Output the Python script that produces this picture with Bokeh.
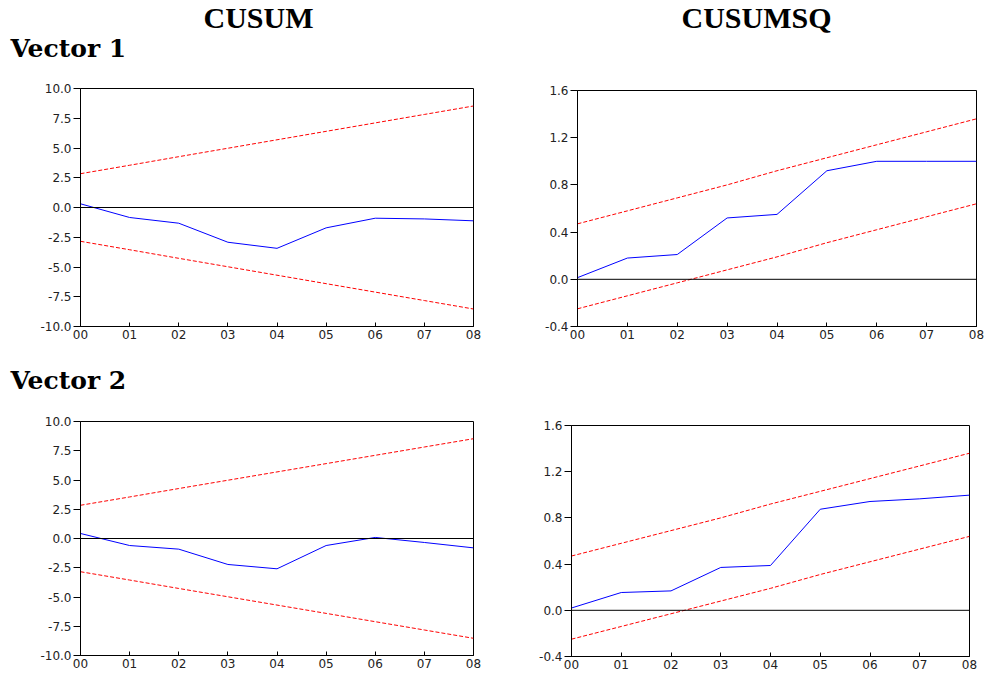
from bokeh.plotting import figure
from bokeh.layouts import column, row
from bokeh.models import Range1d, FixedTicker, Span, NumeralTickFormatter
from bokeh.core.properties import value
from bokeh.embed import file_html
from bokeh.resources import INLINE

# ---------------- data ----------------
periods = [0, 1, 2, 3, 4, 5, 6, 7, 8]
period_labels = ["00", "01", "02", "03", "04", "05", "06", "07", "08"]

cusum_v1 = [0.31, -0.84, -1.32, -2.92, -3.43, -1.71, -0.90, -0.96, -1.12]
cusum_v2 = [0.43, -0.60, -0.91, -2.22, -2.59, -0.60, 0.09, -0.34, -0.80]
cusum_upper = [2.84, 3.55, 4.27, 4.98, 5.69, 6.40, 7.11, 7.82, 8.53]
cusum_lower = [-2.84, -3.55, -4.27, -4.98, -5.69, -6.40, -7.11, -7.82, -8.53]

cusumsq_v1 = [0.014, 0.18, 0.21, 0.52, 0.55, 0.92, 1.0, 1.0, 1.0]
cusumsq_v2 = [0.02, 0.154, 0.168, 0.371, 0.388, 0.875, 0.942, 0.965, 0.997]
cusumsq_upper = [0.47, 0.58, 0.69, 0.80, 0.92, 1.03, 1.14, 1.25, 1.36]
cusumsq_lower = [-0.25, -0.14, -0.03, 0.08, 0.19, 0.31, 0.42, 0.53, 0.64]

cusum_ticks = [-10.0, -7.5, -5.0, -2.5, 0.0, 2.5, 5.0, 7.5, 10.0]
cusumsq_ticks = [-0.4, 0.0, 0.4, 0.8, 1.2, 1.6]

col_titles = ["CUSUM", "CUSUMSQ"]
row_titles = ["Vector 1", "Vector 2"]

TICK_FONT = "DejaVu Sans"


def panel(series, upper, lower, yticks, width, height, bl, br, bt, bb):
    p = figure(width=width, height=height, output_backend="svg",
               toolbar_location=None, tools="",
               x_range=Range1d(periods[0], periods[-1]),
               y_range=Range1d(yticks[0], yticks[-1]),
               min_border_left=bl, min_border_right=br,
               min_border_top=bt, min_border_bottom=bb)
    p.grid.visible = False
    p.outline_line_color = "black"
    p.outline_line_width = 1
    p.outline_line_alpha = 1
    p.background_fill_color = "white"

    p.xaxis.ticker = FixedTicker(ticks=periods)
    p.xaxis.major_label_overrides = {k: v for k, v in zip(periods, period_labels)}
    p.xaxis.major_tick_in = 4
    p.xaxis.major_tick_out = 0
    p.xaxis.minor_tick_line_color = None
    p.xaxis.major_label_standoff = 3

    p.yaxis.ticker = FixedTicker(ticks=yticks)
    p.yaxis.formatter = NumeralTickFormatter(format="0.0")
    p.yaxis.major_tick_in = 0
    p.yaxis.major_tick_out = 7
    p.yaxis.minor_tick_line_color = None
    p.yaxis.major_label_standoff = 2

    for ax in (p.xaxis, p.yaxis):
        ax.axis_line_color = "black"
        ax.major_tick_line_color = "black"
        ax.major_label_text_font = TICK_FONT
        ax.major_label_text_font_size = "12px"
        ax.major_label_text_color = "#222222"

    p.add_layout(Span(location=0, dimension="width", line_color="black", line_width=1))
    p.line(periods, upper, line_color="#ff0000", line_width=1, line_dash="4 2")
    p.line(periods, lower, line_color="#ff0000", line_width=1, line_dash="4 2")
    p.line(periods, series, line_color="#0000ff", line_width=1)
    return p


def header(width, height, items):
    h = figure(width=width, height=height, output_backend="svg",
               toolbar_location=None, tools="",
               x_range=Range1d(0, width), y_range=Range1d(height, 0),
               x_axis_location=None, y_axis_location=None,
               min_border=0)
    h.grid.visible = False
    h.outline_line_color = None
    for (x, y, txt, font, size, align) in items:
        h.text(x=[x], y=[y], text=[txt], text_font=value(font),
               text_font_size=size, text_font_style="bold",
               text_align=align, text_baseline="alphabetic", text_color="black")
    return h


W = 985
head1 = header(W, 78, [
    (258, 17, col_titles[0], "Liberation Serif", "30px", "center"),
    (756, 17, col_titles[1], "Liberation Serif", "30px", "center"),
    (10, 48, row_titles[0], "DejaVu Serif", "25px", "left"),
])

tl = panel(cusum_v1, cusum_upper, cusum_lower, cusum_ticks, 500, 267, 80, 27, 10, 19)
tr = panel(cusumsq_v1, cusumsq_upper, cusumsq_lower, cusumsq_ticks, 485, 267, 77, 9, 12, 19)

head2 = header(W, 60, [
    (10, 35, row_titles[1], "DejaVu Serif", "25px", "left"),
])

bl = panel(cusum_v2, cusum_upper, cusum_lower, cusum_ticks, 500, 270, 80, 27, 16, 20)
br = panel(cusumsq_v2, cusumsq_upper, cusumsq_lower, cusumsq_ticks, 485, 270, 71, 16, 20, 19)

layout = column(head1,
                row(column(tl), column(tr)),
                head2,
                row(column(bl), column(br)))

open("out.html", "w").write(file_html(layout, INLINE))
